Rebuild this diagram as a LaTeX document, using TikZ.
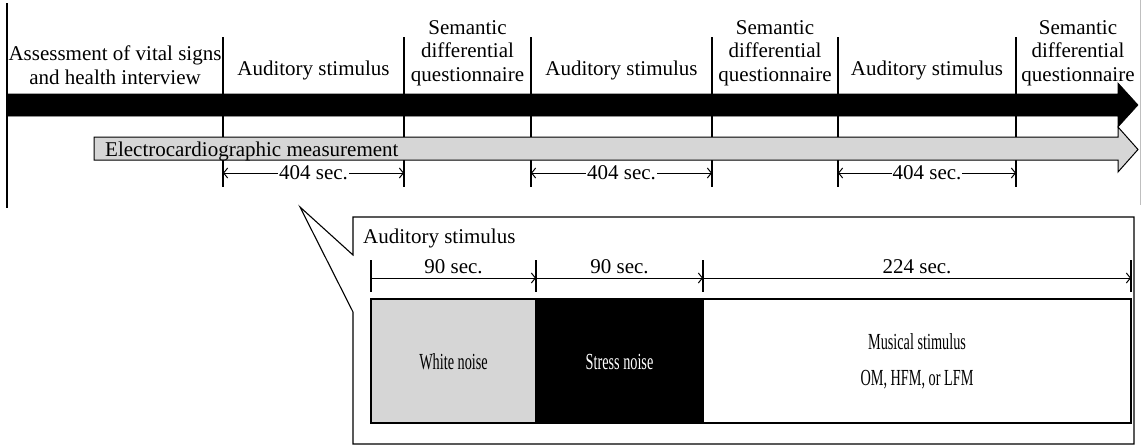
\documentclass[tikz,border=0pt]{standalone}
\usepackage{fontspec}
\setmainfont{Liberation Serif}
\usetikzlibrary{arrows.meta}
\begin{document}
\begin{tikzpicture}[x=1pt,y=-1pt,
  lbl/.style={font=\fontsize{21}{23.5}\selectfont, inner sep=0pt, align=center},
  cond/.style={lbl, font=\fontsize{23}{26}\selectfont, xscale=0.62, transform shape},
  ln/.style={line width=1.1pt},
  tipb/.tip={Straight Barb[length=4pt,width=10pt]},
  dimr/.style={line width=1pt, -tipb},
  dimb/.style={line width=1pt, tipb-tipb},
  secl/.style={lbl, fill=white, inner xsep=1pt, inner ysep=0pt}
]
\useasboundingbox (0,0) rectangle (1141,447);
% edge line at right
\draw[gray!50, line width=0.8pt] (1140,0) -- (1140,205);
% left line
\coordinate (l0) at (7,3);
\coordinate (l1) at (7,208);
\draw[ln] (l0) -- (l1);
% dividers
\foreach \i/\x in {1/223,2/404,3/531,4/712,5/838,6/1016}{
  \coordinate (t\i) at (\x,37);
  \coordinate (b\i) at (\x,187);
  \coordinate (m\i) at (\x,173);
  \draw[ln] (t\i) -- (b\i);
}
% black arrow
\path[fill=black, draw=black, line width=0.6pt] (7,94) -- (1118,94) -- (1118,83) -- (1138,105) -- (1118,127) -- (1118,116) -- (7,116) -- cycle;
% gray arrow
\path[fill=black!16, draw=black, line width=1pt] (94,137) -- (1118,137) -- (1118,127) -- (1138,149.5) -- (1118,172) -- (1118,160) -- (94,160) -- cycle;
\node[lbl, anchor=base west] (ecg) at (105,156) {Electrocardiographic measurement};
% top labels
\node[lbl] (assess) at (115,65) {Assessment of vital signs\\and health interview};
\node[lbl, anchor=base] (aud1) at (313.5,75) {Auditory stimulus};
\node[lbl] (sd1) at (467.5,53) {Semantic\\differential\\questionnaire};
\node[lbl, anchor=base] (aud2) at (621.5,75) {Auditory stimulus};
\node[lbl] (sd2) at (775,53) {Semantic\\differential\\questionnaire};
\node[lbl, anchor=base] (aud3) at (927,75) {Auditory stimulus};
\node[lbl] (sd3) at (1078,53) {Semantic\\differential\\questionnaire};
% 404 sec dimensions
\draw[dimb] (m1) -- (m2) node[secl, midway] (s1) {404 sec.};
\draw[dimb] (m3) -- (m4) node[secl, midway] (s2) {404 sec.};
\draw[dimb] (m5) -- (m6) node[secl, midway] (s3) {404 sec.};
% callout box
\draw[ln, line join=miter] (353,255) -- (300,207) -- (353,312) -- (353,444) -- (1134,444) -- (1134,217) -- (353,217) -- cycle;
\node[lbl, anchor=base west] (audt) at (363,243) {Auditory stimulus};
% inner ticks
\foreach \i/\x in {1/371,2/536,3/703,4/1131}{
  \coordinate (u\i) at (\x,260);
  \coordinate (v\i) at (\x,292);
  \coordinate (w\i) at (\x,278);
  \draw[ln] (u\i) -- (v\i);
}
\draw[dimr] (w1) -- (w2);
\draw[dimr] (w2) -- (w3);
\draw[dimr] (w3) -- (w4);
\node[lbl, anchor=base] (n90a) at (453.5,273) {90 sec.};
\node[lbl, anchor=base] (n90b) at (619.5,273) {90 sec.};
\node[lbl, anchor=base] (n224) at (917,273) {224 sec.};
% bars
\draw[ln, fill=black!16] (371,299) rectangle (536,423);
\draw[ln, fill=black] (536,299) rectangle (703,423);
\draw[ln, fill=white] (703,299) rectangle (1131,423);
\node[cond] (wn) at (453.5,362) {White noise};
\node[cond, text=white] (sn) at (619.5,362) {Stress noise};
\node[cond, anchor=base] (ms) at (917,349) {Musical stimulus};
\node[cond, anchor=base] (om) at (917,385) {OM, HFM, or LFM};
\end{tikzpicture}
\end{document}
